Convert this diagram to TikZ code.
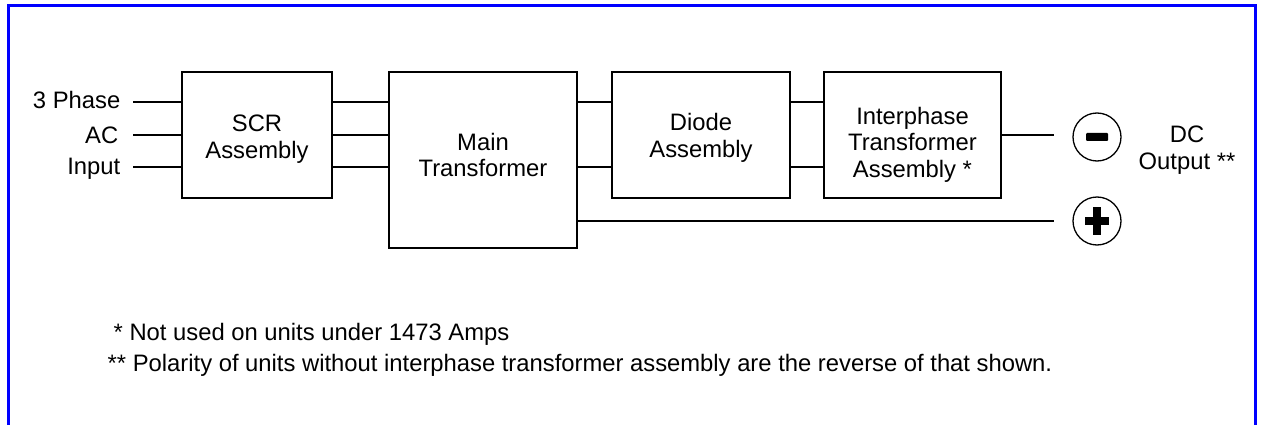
\documentclass[tikz,border=0pt]{standalone}
\usepackage{fontspec}
\setmainfont{Liberation Sans}

\begin{document}
\begin{tikzpicture}[x=1pt, y=-1pt, line width=1.4pt,
  every node/.style={font=\fontsize{23.8}{26.5}\selectfont, align=center}]
\useasboundingbox (0,0) rectangle (1263,425);
% frame
\draw[blue, line width=3pt] (8.5,425) -- (8.5,5.5) -- (1255.5,5.5) -- (1255.5,425);

 \begin{scope}[every node/.append style={draw, minimum height=126pt, inner sep=0pt}]
  \node[minimum width=150pt, text height=51.5pt] (scr) at (257,135) {SCR\\Assembly};
  \node[minimum width=188pt, minimum height=176pt, text depth=10pt] (mt) at (483,160) {Main\\Transformer};
  \node[minimum width=178pt, text height=49pt] (da) at (701,135) {Diode\\Assembly};
  \node[minimum width=177pt, text height=89pt] (ita) at (912.5,135) {Interphase\\Transformer\\Assembly *};
 \end{scope}
 \begin{scope}[every node/.append style={draw, circle, minimum size=48pt, inner sep=0pt, line width=1.3pt}]
  \node (neg) at (1097,137) {};
  \node (pos) at (1097,221) {};
 \end{scope}
 \fill[rounded corners=1pt] ([xshift=-11pt,yshift=-4pt]neg.center) rectangle ([xshift=11pt,yshift=4pt]neg.center);
 \fill ([xshift=-12pt,yshift=-3.7pt]pos.center) rectangle ([xshift=12pt,yshift=3.7pt]pos.center);
 \fill ([xshift=-3.7pt,yshift=-14pt]pos.center) rectangle ([xshift=3.7pt,yshift=14pt]pos.center);

 \begin{scope}[every node/.append style={anchor=base east, inner sep=0pt}]
  \node (l3ph) at (121,109) {3 Phase};
  \node (lac) at (119,143) {AC};
  \node (lin) at (121,175) {Input};
 \end{scope}
 \node (dcout) at (1187,150) {DC\\Output **};

 \coordinate (p1) at (133,102);
 \coordinate (p2) at (133,135);
 \coordinate (p3) at (133,167);
  \path [-] (p1) edge (scr.west |- p1);
  \path [-] (p2) edge (scr.west |- p2);
  \path [-] (p3) edge (scr.west |- p3);
  \path [-] (scr.east |- p1) edge (mt.west |- p1);
  \path [-] (scr.east |- p2) edge (mt.west |- p2);
  \path [-] (scr.east |- p3) edge (mt.west |- p3);
  \path [-] (mt.east |- p1) edge (da.west |- p1);
  \path [-] (mt.east |- p3) edge (da.west |- p3);
  \path [-] (da.east |- p1) edge (ita.west |- p1);
  \path [-] (da.east |- p3) edge (ita.west |- p3);
  \path [-, shorten >=18pt] (ita.east) edge (neg.west |- ita.east);
  \path [-, shorten >=18pt] (mt.east |- pos) edge (pos.west);

 \begin{scope}[every node/.append style={anchor=base west, inner sep=0pt}]
  \node (fn1) at (113,340) {* Not used on units under 1473 Amps};
  \node (fn2) at (107,371) {** Polarity of units without interphase transformer assembly are the reverse of that shown.};
 \end{scope}
\end{tikzpicture}
\end{document}
